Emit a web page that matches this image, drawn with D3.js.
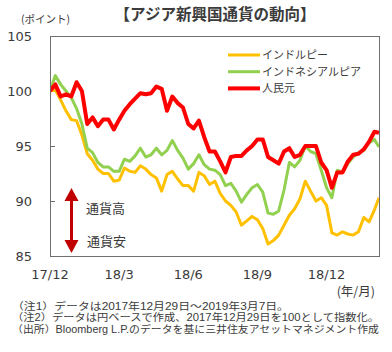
<!DOCTYPE html>
<html>
<head>
<meta charset="utf-8">
<script src="https://cdn.jsdelivr.net/npm/d3@7"></script>
<style>
  body { margin: 0; background: #fff; }
  svg { display: block; }
  text { fill: #3b3b3b; }
</style>
</head>
<body>
<svg id="chart" width="392" height="352"></svg>
<script>
// weekly observations (Fridays) plus the last day 2019-03-07
const dates = [
  "2017-12-29","2018-01-05","2018-01-12","2018-01-19","2018-01-26","2018-02-02","2018-02-09","2018-02-16","2018-02-23","2018-03-02",
  "2018-03-09","2018-03-16","2018-03-23","2018-03-30","2018-04-06","2018-04-13","2018-04-20","2018-04-27","2018-05-04","2018-05-11",
  "2018-05-18","2018-05-25","2018-06-01","2018-06-08","2018-06-15","2018-06-22","2018-06-29","2018-07-06","2018-07-13","2018-07-20",
  "2018-07-27","2018-08-03","2018-08-10","2018-08-17","2018-08-24","2018-08-31","2018-09-07","2018-09-14","2018-09-21","2018-09-28",
  "2018-10-05","2018-10-12","2018-10-19","2018-10-26","2018-11-02","2018-11-09","2018-11-16","2018-11-23","2018-11-30","2018-12-07",
  "2018-12-14","2018-12-21","2018-12-28","2019-01-04","2019-01-11","2019-01-18","2019-01-25","2019-02-01","2019-02-08","2019-02-15",
  "2019-02-22","2019-03-01","2019-03-07"
];

const inr = [
  100.0,100.1,99.2,98.2,97.4,97.3,96.0,94.3,93.7,92.9,
  92.5,92.5,91.8,91.9,93.0,92.7,92.6,93.2,92.9,92.4,
  92.1,90.9,92.4,92.7,92.0,91.4,91.4,90.9,92.6,92.3,
  91.5,91.8,90.7,90.0,89.6,89.0,87.8,88.2,88.6,88.3,
  87.5,86.1,86.4,86.9,87.8,88.7,89.3,90.2,91.8,90.9,
  90.0,90.3,89.6,87.1,86.9,87.2,87.0,86.9,87.2,88.5,
  88.1,89.2,90.3
];

const idr = [
  100.0,101.4,100.6,100.0,99.4,98.4,97.0,94.8,94.4,93.5,
  93.1,93.1,92.7,92.7,93.8,93.6,94.1,94.8,94.0,94.2,
  94.8,94.2,94.6,95.5,94.6,93.9,92.9,93.4,94.2,93.3,
  92.9,92.8,92.4,91.4,91.6,90.9,89.9,90.6,91.2,91.5,
  90.8,88.9,88.8,89.1,91.0,93.5,93.1,93.7,95.0,94.5,
  94.3,92.8,91.2,90.3,92.8,92.6,93.4,94.0,94.4,94.6,
  95.3,95.6,94.9
];

const cny = [
  100.0,100.6,99.5,99.7,99.5,100.8,100.0,97.0,97.6,96.8,
  97.4,97.4,96.5,97.4,98.2,98.8,99.3,99.8,99.7,99.8,
  100.4,100.2,98.2,99.5,98.9,98.5,97.0,96.6,97.3,95.8,
  94.5,94.5,93.6,92.6,94.0,94.1,94.1,94.6,95.0,95.6,
  95.6,94.0,93.7,93.4,94.5,94.8,94.0,94.2,95.0,95.0,
  95.0,93.5,92.8,91.2,92.6,92.6,93.6,94.2,94.3,94.7,
  95.4,96.3,96.2
];

const seriesNames = ["インドルピー", "インドネシアルピア", "人民元"];
const seriesColors = ["#FFC000", "#92D050", "#FF0000"];
const yTicks = [85, 90, 95, 100, 105];
const xTickDates = ["2017-12-29", "2018-03-30", "2018-06-29", "2018-09-28", "2018-12-28"];
const xTickLabels = ["17/12", "18/3", "18/6", "18/9", "18/12"];
const notes = [
  "（注1）データは2017年12月29日～2019年3月7日。",
  "（注2）データは円ベースで作成、2017年12月29日を100として指数化。",
  "（出所）Bloomberg L.P.のデータを基に三井住友アセットマネジメント作成"
];
const noteWidths = [277, 367, 367];

const parse = d3.timeParse("%Y-%m-%d");
const svg = d3.select("#chart");
const margin = { top: 36, right: 13, bottom: 96, left: 50 };
const width = 392 - margin.left - margin.right,
      height = 352 - margin.top - margin.bottom;

const x = d3.scaleTime()
  .domain([parse(dates[0]), parse(dates[dates.length - 1])])
  .range([margin.left, margin.left + width]);
const y = d3.scaleLinear().domain([85, 105]).range([margin.top + height, margin.top]);

const numFont = "'DejaVu Sans', Verdana, sans-serif";
const jpFont = "'Noto Sans CJK JP', sans-serif";
const noteFont = "'Liberation Sans', 'Noto Sans CJK JP', sans-serif";

// title
svg.append("text")
  .attr("x", 215).attr("y", 20)
  .attr("text-anchor", "middle")
  .style("font-family", jpFont)
  .style("font-size", "15.5px")
  .style("font-weight", "bold")
  .text("【アジア新興国通貨の動向】");

svg.append("text")
  .attr("x", 21).attr("y", 23)
  .style("font-family", jpFont)
  .style("font-size", "10.5px")
  .text("(ポイント)");

// y axis labels and inner ticks
svg.append("g").selectAll("text")
  .data(yTicks)
  .join("text")
  .attr("x", 32)
  .attr("y", d => y(d))
  .attr("dy", "0.36em")
  .attr("text-anchor", "end")
  .style("font-family", numFont)
  .style("font-size", "13px")
  .text(d => d);

svg.append("g").selectAll("line")
  .data(yTicks.slice(1, -1))
  .join("line")
  .attr("x1", margin.left).attr("x2", margin.left + 5)
  .attr("y1", d => y(d) + 0.5).attr("y2", d => y(d) + 0.5)
  .attr("stroke", "#6f6f6f");

// x axis labels
svg.append("g").selectAll("text")
  .data(xTickDates)
  .join("text")
  .attr("x", d => x(parse(d)))
  .attr("y", 279)
  .attr("text-anchor", "middle")
  .style("font-family", numFont)
  .style("font-size", "13px")
  .text((d, i) => xTickLabels[i]);

svg.append("text")
  .attr("x", 375).attr("y", 296)
  .attr("text-anchor", "end")
  .style("font-family", jpFont)
  .style("font-size", "12.5px")
  .text("(年/月)");

// lines
const seriesData = [inr, idr, cny];
const widths = [3, 3, 4];
const line = d3.line()
  .x((d, i) => x(parse(dates[i])))
  .y(d => y(d));

svg.append("defs").append("clipPath").attr("id", "clip")
  .append("rect")
  .attr("x", margin.left).attr("y", margin.top)
  .attr("width", width).attr("height", height);

const plot = svg.append("g").attr("clip-path", "url(#clip)");
seriesData.forEach((vals, k) => {
  plot.append("path")
    .attr("d", line(vals))
    .attr("fill", "none")
    .attr("stroke", seriesColors[k])
    .attr("stroke-width", widths[k])
    .attr("stroke-linejoin", "round");
});

// frame
svg.append("rect")
  .attr("x", margin.left + 0.5).attr("y", margin.top + 0.5)
  .attr("width", width).attr("height", height)
  .attr("fill", "none")
  .attr("stroke", "#6f6f6f");

// legend
const legend = svg.append("g");
seriesNames.forEach((name, i) => {
  const ly = 55 + i * 16.7;
  legend.append("line")
    .attr("x1", 228).attr("x2", 260)
    .attr("y1", ly).attr("y2", ly)
    .attr("stroke", seriesColors[i])
    .attr("stroke-width", widths[i]);
  legend.append("text")
    .attr("x", 262).attr("y", ly)
    .attr("dy", "0.36em")
    .style("font-family", jpFont)
    .style("font-size", "11px")
    .text(name);
});

// double arrow (通貨高 up / 通貨安 down)
const arrowColor = "#C00000";
const yTop = y(91.18), yBot = y(85.27);
svg.append("line")
  .attr("x1", 71.5).attr("x2", 71.5)
  .attr("y1", yTop + 10).attr("y2", yBot - 10)
  .attr("stroke", arrowColor).attr("stroke-width", 3);
svg.append("path")
  .attr("d", `M64.5,${yTop + 13} L71.5,${yTop} L78.5,${yTop + 13} Z`)
  .attr("fill", arrowColor);
svg.append("path")
  .attr("d", `M64.5,${yBot - 13} L71.5,${yBot} L78.5,${yBot - 13} Z`)
  .attr("fill", arrowColor);

svg.append("text")
  .attr("x", 86).attr("y", 208).attr("dy", "0.36em")
  .style("font-family", jpFont).style("font-size", "13px")
  .text("通貨高");
svg.append("text")
  .attr("x", 87).attr("y", 241).attr("dy", "0.36em")
  .style("font-family", jpFont).style("font-size", "13px")
  .text("通貨安");

// notes
svg.append("g").selectAll("text")
  .data(notes)
  .join("text")
  .attr("x", 12)
  .attr("y", (d, i) => 306 + i * 11.5)
  .attr("dy", "0.36em")
  .attr("textLength", (d, i) => noteWidths[i])
  .attr("lengthAdjust", "spacingAndGlyphs")
  .style("font-family", noteFont)
  .style("font-size", "10px")
  .text(d => d);
</script>
</body>
</html>
